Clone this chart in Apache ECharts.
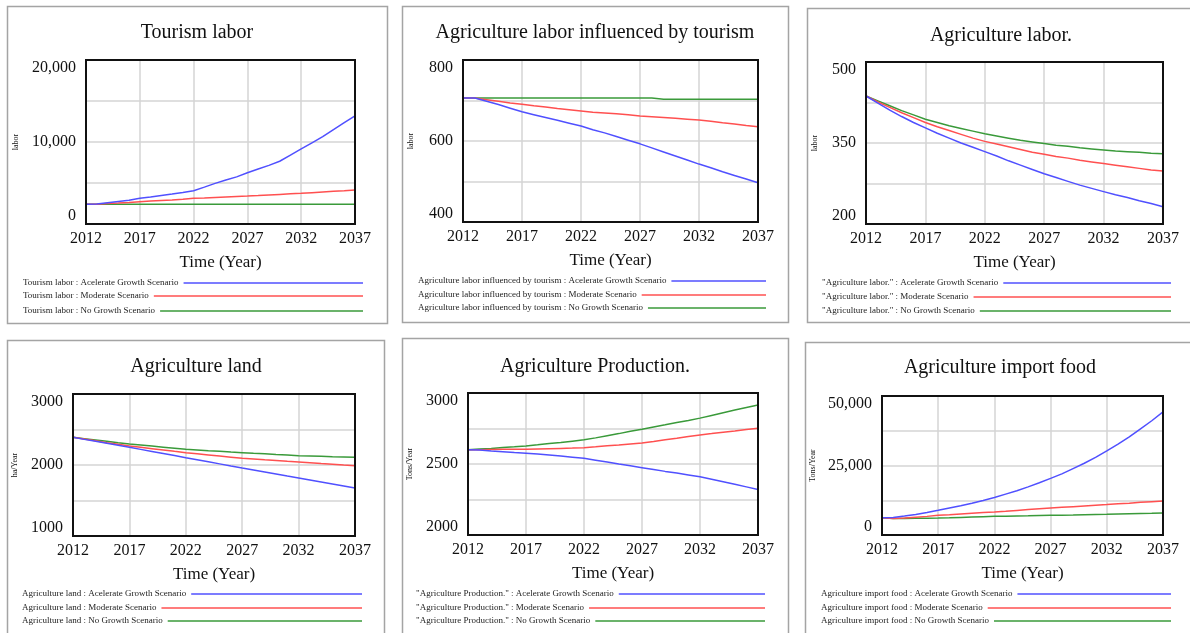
<!DOCTYPE html>
<html>
<head>
<meta charset="utf-8">
<script src="https://cdn.jsdelivr.net/npm/echarts@6/dist/echarts.min.js"></script>
<style>
  html, body { margin: 0; padding: 0; background: #fff; }
  #chart { width: 1190px; height: 633px; }
</style>
</head>
<body>
<div id="chart"></div>
<script>
// Simulation years and x-axis ticks
const years = [2012, 2013, 2014, 2015, 2016, 2017, 2018, 2019, 2020, 2021, 2022, 2023, 2024,
               2025, 2026, 2027, 2028, 2029, 2030, 2031, 2032, 2033, 2034, 2035, 2036, 2037];
const xTicks = [2012, 2017, 2022, 2027, 2032, 2037];
const scenarios = ['Acelerate Growth Scenario', 'Moderate Scenario', 'No Growth Scenario'];

// Tourism labor (labor)
const tourismLaborTicks = [0, 10000, 20000];
const tourismAccelerate = [2400, 2450, 2600, 2750, 2900, 3130, 3300, 3480, 3650, 3830, 4060, 4500, 4950,
                           5370, 5750, 6250, 6700, 7150, 7650, 8400, 9150, 9900, 10650, 11500, 12350, 13200];
const tourismModerate = [2400, 2400, 2500, 2550, 2620, 2720, 2800, 2870, 2940, 3020, 3130, 3180, 3240,
                         3300, 3360, 3410, 3470, 3540, 3610, 3680, 3740, 3820, 3900, 3980, 4060, 4150];
const tourismNoGrowth = [2400, 2400, 2400, 2400, 2400, 2400, 2400, 2400, 2400, 2400, 2400, 2400, 2400,
                         2400, 2400, 2400, 2400, 2400, 2400, 2400, 2400, 2400, 2400, 2400, 2400, 2400];

// Agriculture labor influenced by tourism (labor)
const influencedTicks = [400, 600, 800];
const influencedAccelerate = [706, 706, 698, 690, 681, 672, 665, 658, 651, 644, 637, 628, 620,
                              611, 602, 593, 583, 573, 563, 553, 543, 534, 524, 515, 506, 497];
const influencedModerate = [706, 706, 702, 698, 694, 691, 687, 684, 680, 677, 674, 671, 669,
                            667, 665, 662, 660, 658, 656, 654, 652, 649, 645, 642, 638, 635];
const influencedNoGrowth = [706, 706, 706, 706, 706, 706, 706, 706, 706, 706, 706, 706, 706,
                            706, 706, 706, 706, 703, 703, 703, 703, 703, 703, 703, 703, 703];

// Agriculture labor (labor)
const agriLaborTicks = [200, 350, 500];
const agriLaborAccelerate = [437, 424, 411, 399, 388, 378, 368, 359, 350, 342, 334, 326, 317,
                             309, 301, 293, 286, 279, 272, 266, 260, 254, 249, 243, 238, 232];
const agriLaborModerate = [437, 426, 416, 406, 397, 388, 380, 373, 366, 359, 353, 348, 343,
                           338, 333, 329, 325, 322, 318, 315, 312, 309, 306, 303, 300, 298];
const agriLaborNoGrowth = [437, 428, 419, 410, 402, 394, 388, 382, 377, 372, 367, 363, 359,
                           355, 352, 349, 346, 344, 341, 339, 337, 335, 334, 333, 331, 330];

// Agriculture land (ha/Year)
const landTicks = [1000, 2000, 3000];
const landAccelerate = [2390, 2361, 2333, 2305, 2277, 2249, 2220, 2191, 2162, 2133, 2103, 2074, 2045,
                        2016, 1986, 1957, 1929, 1901, 1873, 1844, 1816, 1788, 1760, 1732, 1704, 1676];
const landModerate = [2390, 2365, 2340, 2315, 2291, 2268, 2249, 2230, 2211, 2192, 2174, 2158, 2142,
                      2126, 2110, 2094, 2084, 2073, 2063, 2052, 2042, 2032, 2021, 2011, 2000, 1990];
const landNoGrowth = [2390, 2371, 2352, 2333, 2314, 2296, 2281, 2266, 2251, 2236, 2221, 2212, 2202,
                      2193, 2183, 2174, 2165, 2157, 2148, 2140, 2131, 2127, 2122, 2117, 2113, 2108];

// Agriculture production (Tons/Year)
const productionTicks = [2000, 2500, 3000];
const productionAccelerate = [2600, 2598, 2592, 2587, 2581, 2576, 2570, 2563, 2556, 2548, 2540, 2527, 2514,
                              2500, 2487, 2474, 2461, 2448, 2436, 2423, 2410, 2393, 2375, 2357, 2339, 2321];
const productionModerate = [2600, 2600, 2602, 2603, 2604, 2604, 2606, 2608, 2610, 2612, 2615, 2621, 2628,
                            2634, 2641, 2648, 2659, 2671, 2682, 2694, 2705, 2714, 2724, 2733, 2743, 2752];
const productionNoGrowth = [2600, 2605, 2610, 2616, 2621, 2627, 2635, 2644, 2652, 2661, 2670, 2684, 2699,
                            2714, 2730, 2745, 2761, 2776, 2792, 2807, 2823, 2842, 2861, 2880, 2898, 2915];

// Agriculture import food (Tons/Year)
const importTicks = [0, 25000, 50000];
const importAccelerate = [6200, 6300, 6800, 7400, 8100, 8870, 9700, 10500, 11400, 12400, 13480, 14700, 15900,
                          17300, 18800, 20360, 22000, 23900, 25800, 27900, 30250, 32700, 35300, 38200, 41100, 44300];
const importModerate = [6200, 5900, 6100, 6400, 6700, 7070, 7300, 7550, 7800, 8050, 8260, 8550, 8850,
                        9150, 9450, 9710, 9950, 10200, 10450, 10700, 10940, 11200, 11450, 11750, 12000, 12250];
const importNoGrowth = [6200, 5900, 5950, 6000, 6050, 6090, 6200, 6320, 6440, 6570, 6700, 6770, 6850,
                        6920, 7000, 7070, 7140, 7210, 7290, 7360, 7430, 7520, 7620, 7710, 7800, 7900];

const FONT = '"Liberation Serif", "Times New Roman", serif';
const INK = '#111';
const LINE_COLORS = ['#5050ff', '#ff5050', '#3a9a3a'];
const GRID_COLOR = '#d4d4d4';

// Panel layout: frame [x, y, w, h], title centre, plot [left, top, width, height],
// unit label gap, legend text start / line end and row centres.
const panels = [
  { title: 'Tourism labor', varName: 'Tourism labor', unit: 'labor',
    ticks: tourismLaborTicks, values: [tourismAccelerate, tourismModerate, tourismNoGrowth],
    frame: [7, 6, 380, 317], titleAt: [197, 33], plot: [86, 60, 269, 164], unitGap: 66,
    legendX: [23, 364], legendRows: [283, 296, 311] },
  { title: 'Agriculture labor influenced by tourism', varName: 'Agriculture labor influenced by tourism', unit: 'labor',
    ticks: influencedTicks, values: [influencedAccelerate, influencedModerate, influencedNoGrowth],
    frame: [402, 6, 386, 316], titleAt: [595, 33], plot: [463, 60, 295, 162], unitGap: 48,
    legendX: [418, 767], legendRows: [281, 295, 308] },
  { title: 'Agriculture labor.', varName: '"Agriculture labor."', unit: 'labor',
    ticks: agriLaborTicks, values: [agriLaborAccelerate, agriLaborModerate, agriLaborNoGrowth],
    frame: [807, 8, 400, 314], titleAt: [1001, 36], plot: [866, 62, 297, 162], unitGap: 47,
    legendX: [822, 1172], legendRows: [283, 297, 311] },
  { title: 'Agriculture land', varName: 'Agriculture land', unit: 'ha/Year',
    ticks: landTicks, values: [landAccelerate, landModerate, landNoGrowth],
    frame: [7, 340, 377, 310], titleAt: [196, 367], plot: [73, 394, 282, 142], unitGap: 54,
    legendX: [22, 363], legendRows: [594, 608, 621] },
  { title: 'Agriculture Production.', varName: '"Agriculture Production."', unit: 'Tons/Year',
    ticks: productionTicks, values: [productionAccelerate, productionModerate, productionNoGrowth],
    frame: [402, 338, 386, 310], titleAt: [595, 367], plot: [468, 393, 290, 142], unitGap: 54,
    legendX: [416, 766], legendRows: [594, 608, 621] },
  { title: 'Agriculture import food', varName: 'Agriculture import food', unit: 'Tons/Year',
    ticks: importTicks, values: [importAccelerate, importModerate, importNoGrowth],
    frame: [805, 342, 400, 310], titleAt: [1000, 368], plot: [882, 396, 281, 139], unitGap: 65,
    legendX: [821, 1172], legendRows: [594, 608, 621] }
];

const LEGEND_FONT_SIZE = 9;
const measureCtx = document.createElement('canvas').getContext('2d');
measureCtx.font = LEGEND_FONT_SIZE + 'px ' + FONT;
const textWidth = s => measureCtx.measureText(s).width;

const fmtValue = v => (v >= 10000 ? v.toLocaleString('en-US') : String(v));

const grid = [], xAxis = [], yAxis = [], series = [], title = [], legend = [], graphic = [];

panels.forEach((p, i) => {
  // Panel frame
  graphic.push({
    type: 'rect', silent: true, z: 0,
    shape: { x: p.frame[0] + 0.5, y: p.frame[1] + 0.5, width: p.frame[2], height: p.frame[3] },
    style: { fill: 'none', stroke: '#a4a4a4', lineWidth: 1.5 }
  });

  title.push({
    text: p.title, left: p.titleAt[0], top: p.titleAt[1], padding: 0,
    textAlign: 'center', textVerticalAlign: 'middle',
    textStyle: { fontFamily: FONT, fontSize: 20, fontWeight: 'normal', color: INK }
  });

  grid.push({
    left: p.plot[0], top: p.plot[1], width: p.plot[2], height: p.plot[3],
    show: true, z: 5, backgroundColor: 'transparent', borderColor: INK, borderWidth: 2
  });

  xAxis.push({
    type: 'value', gridIndex: i,
    min: xTicks[0], max: xTicks[xTicks.length - 1], interval: xTicks[1] - xTicks[0],
    name: 'Time (Year)', nameLocation: 'middle', nameGap: 30,
    nameTextStyle: { fontFamily: FONT, fontSize: 17, color: INK },
    axisLine: { show: false }, axisTick: { show: false },
    axisLabel: { margin: 7, fontFamily: FONT, fontSize: 16, color: INK, formatter: v => String(v) },
    splitLine: { show: true, lineStyle: { color: GRID_COLOR, width: 1.5 } }
  });

  const ticks = p.ticks;
  yAxis.push({
    type: 'value', gridIndex: i,
    min: ticks[0], max: ticks[ticks.length - 1], interval: (ticks[1] - ticks[0]) / 2,
    name: p.unit, nameLocation: 'middle', nameRotate: 90, nameGap: p.unitGap,
    nameTextStyle: { fontFamily: FONT, fontSize: 8, color: INK },
    axisLine: { show: false }, axisTick: { show: false },
    axisLabel: {
      margin: 10, fontFamily: FONT, fontSize: 16, color: INK,
      verticalAlignMinLabel: 'bottom', verticalAlignMaxLabel: 'top',
      formatter: v => (ticks.indexOf(v) >= 0 ? fmtValue(v) : '')
    },
    splitLine: { show: true, lineStyle: { color: GRID_COLOR, width: 1.5 } }
  });

  scenarios.forEach((s, k) => {
    const name = p.varName + ' : ' + s;
    series.push({
      type: 'line', name, xAxisIndex: i, yAxisIndex: i,
      data: years.map((yr, j) => [yr, p.values[k][j]]),
      symbol: 'none', z: 2 + (2 - k),
      lineStyle: { width: 1.5, color: LINE_COLORS[k] },
      itemStyle: { color: LINE_COLORS[k] }
    });
    const tw = textWidth(name);
    legend.push({
      data: [name], selectedMode: false, padding: 0,
      left: p.legendX[0], top: p.legendRows[k] - 6,
      align: 'right', icon: 'rect',
      itemWidth: Math.max(10, p.legendX[1] - p.legendX[0] - tw - 6), itemHeight: 1.5,
      textStyle: { fontFamily: FONT, fontSize: LEGEND_FONT_SIZE, color: '#222', lineHeight: 12 }
    });
  });
});

const chart = echarts.init(document.getElementById('chart'), null, { renderer: 'canvas' });
chart.setOption({
  animation: false,
  backgroundColor: '#fff',
  title, grid, xAxis, yAxis, series, legend, graphic
});
</script>
</body>
</html>
